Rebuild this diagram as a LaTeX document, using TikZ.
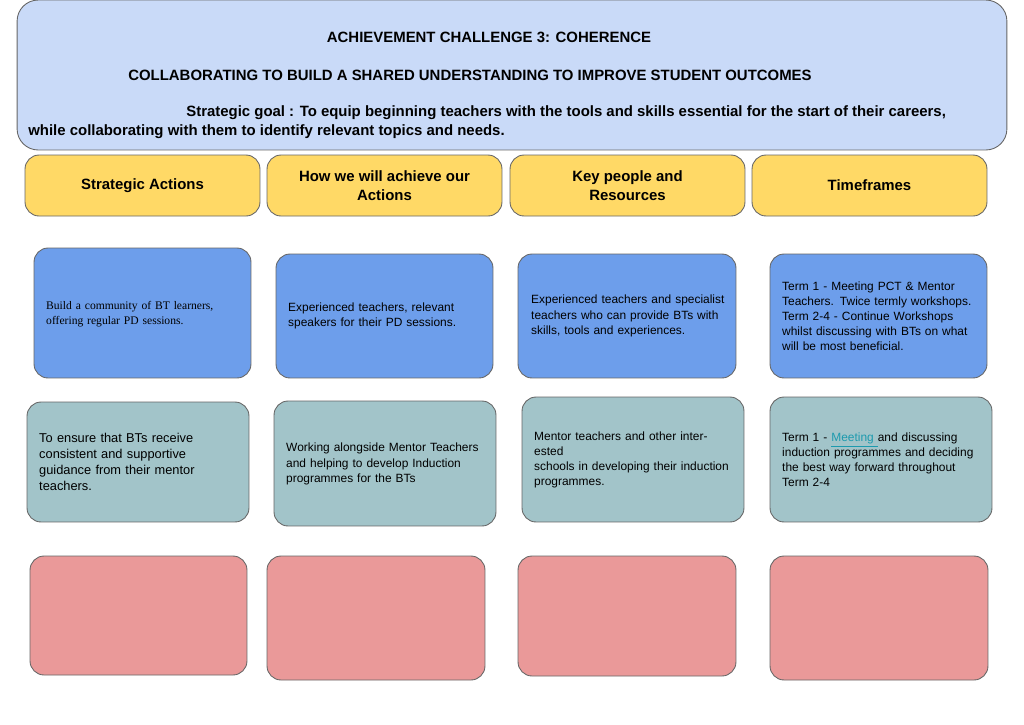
\documentclass[tikz,border=0pt]{standalone}
\usepackage{fontspec}
\setmainfont{Liberation Sans}
\newfontfamily\btserif{Liberation Serif}
\usepackage{xcolor}
\definecolor{bannerc}{HTML}{C9DAF8}
\definecolor{headc}{HTML}{FFD966}
\definecolor{actc}{HTML}{6D9EEB}
\definecolor{peoplec}{HTML}{A2C4C9}
\definecolor{emptyc}{HTML}{EA9999}
\definecolor{linkc}{HTML}{1C9AAE}
\tikzset{
  card/.style={rectangle, rounded corners=8pt, draw=black!60, line width=0.5pt},
  headcard/.style={card, fill=headc, font=\fontsize{8.5}{10.8}\selectfont\bfseries, align=center, minimum width=4.7cm, minimum height=1.22cm},
  bodytext/.style={font=\fontsize{6.8}{8.6}\selectfont, align=left, text width=3.9cm},
  title/.style={font=\fontsize{8.5}{10.8}\selectfont\bfseries}
}
\begin{document}
\begin{tikzpicture}[x=0.02cm, y=-0.02cm]
  \useasboundingbox (0, 0) rectangle (1024, 724);
  % Banner
  \node (banner) [card, fill=bannerc, rounded corners=12pt, minimum width=19.8cm, minimum height=3cm] at (512, 75) {};
  \node (challenge) [title] at (489, 37) {ACHIEVEMENT CHALLENGE 3: COHERENCE};
  \node (motto) [title] at (470, 75) {COLLABORATING TO BUILD A SHARED UNDERSTANDING TO IMPROVE STUDENT OUTCOMES};
  \node (goal-0) [title, anchor=west, inner sep=0pt] at (186, 113) {Strategic goal : To equip beginning teachers with the tools and skills essential for the start of their careers,};
  \node (goal-1) [title, anchor=west, inner sep=0pt] at (28, 132) {while collaborating with them to identify relevant topics and needs.};
  % Headers
  \node (head-0) [headcard] at (142.5, 185.5) {Strategic Actions};
  \node (head-1) [headcard] at (384.5, 185.5) {How we will achieve our\\Actions};
  \node (head-2) [headcard] at (627.5, 185.5) {Key people and\\Resources};
  \node (head-3) [headcard] at (869.5, 185.5) {Timeframes};
  % Row 1
  \node (act-0) [card, fill=actc, minimum width=4.34cm, minimum height=2.6cm] at (142.5, 313) {};
  \node (act-1) [card, fill=actc, minimum width=4.34cm, minimum height=2.48cm] at (384.5, 316) {};
  \node (act-2) [card, fill=actc, minimum width=4.36cm, minimum height=2.48cm] at (627, 316) {};
  \node (act-3) [card, fill=actc, minimum width=4.34cm, minimum height=2.48cm] at (878.5, 316) {};
  \node (act-0-text) [bodytext, anchor=west, font=\btserif\fontsize{6.6}{8.4}\selectfont] at (40, 314) {Build a community of BT learners,\\offering regular PD sessions.};
  \node (act-1-text) [bodytext, anchor=west] at (282, 316) {Experienced teachers, relevant\\speakers for their PD sessions.};
  \node (act-2-text) [bodytext, anchor=west] at (525, 316) {Experienced teachers and specialist\\teachers who can provide BTs with\\skills, tools and experiences.};
  \node (act-3-text) [bodytext, anchor=west] at (776, 316) {Term 1 - Meeting PCT \& Mentor\\Teachers. Twice termly workshops.\\Term 2-4 - Continue Workshops\\whilst discussing with BTs on what\\will be most beneficial.};
  % Row 2
  \node (people-0) [card, fill=peoplec, minimum width=4.44cm, minimum height=2.4cm] at (138, 462) {};
  \node (people-1) [card, fill=peoplec, minimum width=4.44cm, minimum height=2.5cm] at (385, 463.5) {};
  \node (people-2) [card, fill=peoplec, minimum width=4.44cm, minimum height=2.5cm] at (633, 459.5) {};
  \node (people-3) [card, fill=peoplec, minimum width=4.44cm, minimum height=2.5cm] at (881, 459.5) {};
  \node (people-0-text) [bodytext, anchor=west, font=\fontsize{7.3}{9.1}\selectfont] at (33, 462) {To ensure that BTs receive\\consistent and supportive\\guidance from their mentor\\teachers.};
  \node (people-1-text) [bodytext, anchor=west] at (280, 464) {Working alongside Mentor Teachers\\and helping to develop Induction\\programmes for the BTs};
  \node (people-2-text) [bodytext, anchor=west] at (528, 460) {Mentor teachers and other interested\\schools in developing their induction\\programmes.};
  \node (people-3-text) [bodytext, anchor=west] at (776, 460) {Term 1 - \textcolor{linkc}{\underline{Meeting }}and discussing\\induction programmes and deciding\\the best way forward throughout\\Term 2-4};
  % Row 3
  \node (empty-0) [card, fill=emptyc, minimum width=4.34cm, minimum height=2.38cm] at (138.5, 615.5) {};
  \node (empty-1) [card, fill=emptyc, minimum width=4.36cm, minimum height=2.48cm] at (376, 618) {};
  \node (empty-2) [card, fill=emptyc, minimum width=4.36cm, minimum height=2.4cm] at (627, 616) {};
  \node (empty-3) [card, fill=emptyc, minimum width=4.36cm, minimum height=2.48cm] at (879, 618) {};
\end{tikzpicture}
\end{document}
